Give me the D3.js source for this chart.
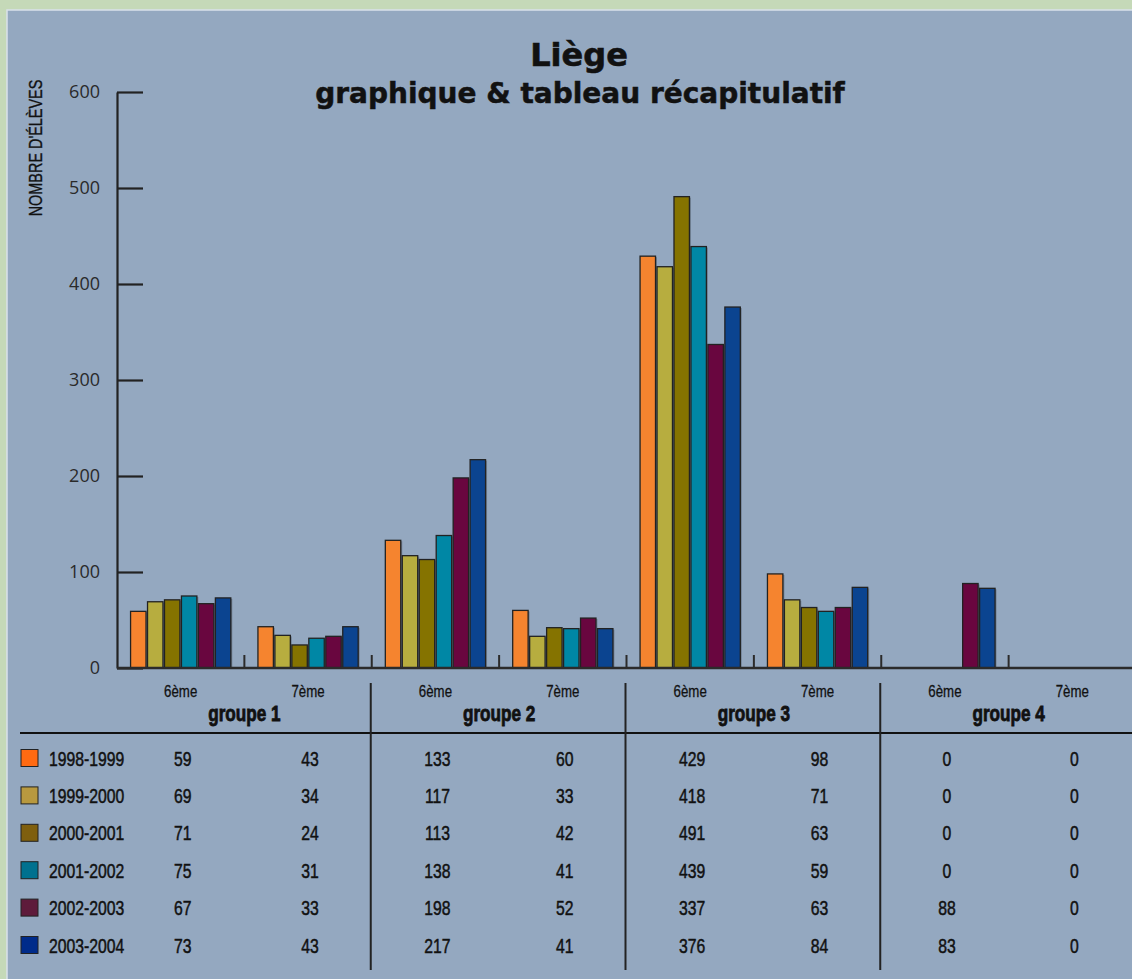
<!DOCTYPE html>
<html>
<head>
<meta charset="utf-8">
<script src="https://cdn.jsdelivr.net/npm/d3@7"></script>
<style>
  html, body { margin: 0; padding: 0; background: #c5d9b8; }
  svg { display: block; }
  .cond { font-family: "Liberation Sans", Arial, sans-serif; }
</style>
</head>
<body>
<svg id="chart" width="1132" height="979"></svg>
<script>
// Pupils per year, by class (6ème / 7ème) and group
const groups = ["groupe 1", "groupe 2", "groupe 3", "groupe 4"];
const classes = ["6ème", "7ème"];
const years = ["1998-1999", "1999-2000", "2000-2001", "2001-2002", "2002-2003", "2003-2004"];

// values in order: g1 6ème, g1 7ème, g2 6ème, g2 7ème, g3 6ème, g3 7ème, g4 6ème, g4 7ème
const v1998 = [59, 43, 133, 60, 429, 98, 0, 0];
const v1999 = [69, 34, 117, 33, 418, 71, 0, 0];
const v2000 = [71, 24, 113, 42, 491, 63, 0, 0];
const v2001 = [75, 31, 138, 41, 439, 59, 0, 0];
const v2002 = [67, 33, 198, 52, 337, 63, 88, 0];
const v2003 = [73, 43, 217, 41, 376, 84, 83, 0];
const seriesValues = [v1998, v1999, v2000, v2001, v2002, v2003];

const yTicks = [0, 100, 200, 300, 400, 500, 600];

const barColors = ["#f5842f", "#b7ad3f", "#857300", "#0087a5", "#69063f", "#0b4490"];
const swatchColors = ["#ff6a12", "#b8993f", "#7f5f0e", "#00718f", "#5e1b3b", "#002b8a"];

const svg = d3.select("#chart");
const W = 1132, H = 979;
const SX = 0.8; // horizontal squeeze for the condensed labels

// condensed text: placed at (x, y), squeezed horizontally around its anchor
function condText(parent, x, y, str, opts) {
  const o = Object.assign({ size: 20, anchor: "middle", weight: "normal", sx: SX, rotate: 0, stroke: 0 }, opts || {});
  const t = parent.append("text").attr("class", "cond")
    .attr("transform", `translate(${x},${y}) rotate(${o.rotate}) scale(${o.sx},1)`)
    .attr("text-anchor", o.anchor).attr("font-size", o.size).attr("font-weight", o.weight)
    .attr("fill", "#111").text(str);
  if (o.stroke) t.attr("stroke", "#111").attr("stroke-width", o.stroke);
  return t;
}

// panel
svg.append("rect").attr("x", 7).attr("y", 10).attr("width", W + 20).attr("height", H + 20)
  .attr("fill", "#94a8c0").attr("stroke", "#d9e1ea").attr("stroke-width", 1.5);

// titles
svg.append("text").attr("x", 579).attr("y", 66).attr("text-anchor", "middle")
  .attr("font-family", "'DejaVu Sans', sans-serif").attr("font-weight", "bold")
  .attr("font-size", 32).attr("fill", "#111").attr("stroke", "#111").attr("stroke-width", 0.6)
  .text("Liège");
svg.append("text").attr("x", 580).attr("y", 103).attr("text-anchor", "middle")
  .attr("font-family", "'DejaVu Sans', sans-serif").attr("font-weight", "bold")
  .attr("font-size", 28).attr("fill", "#111").attr("stroke", "#111").attr("stroke-width", 0.5)
  .text("graphique & tableau récapitulatif");

// scales
const cats = [];
groups.forEach(g => classes.forEach(c => cats.push(g + "|" + c)));
const x0 = d3.scaleBand().domain(cats).range([117, 1136]).padding(0);
const x1 = d3.scaleBand().domain(years).range([0, x0.bandwidth()])
  .paddingInner(0.09).paddingOuter(0.8);
const y = d3.scaleLinear().domain([0, 600]).range([668, 92]);

// y axis
const yAxis = d3.axisLeft(y).tickValues(yTicks).tickSizeInner(-26).tickSizeOuter(0).tickPadding(17);
const ya = svg.append("g").attr("transform", "translate(117,0)").call(yAxis);
ya.select(".domain").attr("stroke", "#222").attr("stroke-width", 2.2);
ya.selectAll(".tick line").attr("stroke", "#222").attr("stroke-width", 2.2);
ya.selectAll(".tick text").attr("font-family", "'Open Sans', 'Noto Sans', sans-serif")
  .attr("font-size", 18).attr("fill", "#2a2a2a");

condText(svg, 42, 148, "NOMBRE D'ÉLÈVES", { size: 19, rotate: -90, sx: 0.76, stroke: 0.35 });

// bars
const barData = [];
seriesValues.forEach((vals, si) => vals.forEach((v, ci) => {
  if (v > 0) barData.push({ cat: cats[ci], year: years[si], si, v });
}));
const bars = svg.append("g");
bars.selectAll("rect.shadow").data(barData).enter().append("rect").attr("class", "shadow")
  .attr("x", d => x0(d.cat) + x1(d.year) + 1.5).attr("y", d => y(d.v) + 1)
  .attr("width", x1.bandwidth()).attr("height", d => y(0) - y(d.v))
  .attr("fill", "#4a5563").attr("opacity", 0.45);
bars.selectAll("rect.bar").data(barData).enter().append("rect").attr("class", "bar")
  .attr("x", d => x0(d.cat) + x1(d.year)).attr("y", d => y(d.v))
  .attr("width", x1.bandwidth()).attr("height", d => y(0) - y(d.v))
  .attr("fill", d => barColors[d.si]).attr("stroke", "#222").attr("stroke-width", 1.3);

// x baseline and category boundary ticks
svg.append("line").attr("x1", 117).attr("x2", 1132).attr("y1", 668).attr("y2", 668)
  .attr("stroke", "#2b2b2b").attr("stroke-width", 2.5);
svg.append("g").selectAll("line").data(cats.slice(1)).enter().append("line")
  .attr("x1", d => x0(d)).attr("x2", d => x0(d)).attr("y1", 655).attr("y2", 668)
  .attr("stroke", "#2b2b2b").attr("stroke-width", 2);

// category labels
const catG = svg.append("g");
cats.forEach(c => condText(catG, x0(c) + x0.bandwidth() / 2, 697, c.split("|")[1],
  { size: 17, sx: 0.78, stroke: 0.3 }));

// group labels
const grpG = svg.append("g");
groups.forEach(g => condText(grpG, x0(g + "|" + classes[0]) + x0.bandwidth(), 721, g,
  { size: 22, weight: "bold", sx: 0.78, stroke: 0.8 }));

// table rules
svg.append("line").attr("x1", 20).attr("x2", 1132).attr("y1", 733).attr("y2", 733)
  .attr("stroke", "#111").attr("stroke-width", 2);
svg.append("g").selectAll("line").data(groups.slice(1)).enter().append("line")
  .attr("x1", g => x0(g + "|" + classes[0]) - 1).attr("x2", g => x0(g + "|" + classes[0]) - 1)
  .attr("y1", 683).attr("y2", 970).attr("stroke", "#222").attr("stroke-width", 2);

// table rows: swatch, year, values
const rowY = d3.scalePoint().domain(years).range([758, 945]);
const tbl = svg.append("g");
years.forEach((yr, i) => {
  const ry = rowY(yr);
  tbl.append("rect").attr("x", 21).attr("y", ry - 8.5).attr("width", 17).attr("height", 17)
    .attr("fill", swatchColors[i]).attr("stroke", "#222").attr("stroke-width", 1);
  condText(tbl, 49, ry + 7.5, yr, { size: 21, anchor: "start", sx: 0.75, stroke: 0.5 });
  seriesValues[i].forEach((v, ci) => {
    condText(tbl, x0(cats[ci]) + x0.bandwidth() / 2 + 2, ry + 7.5, v, { size: 21, sx: 0.75, stroke: 0.5 });
  });
});
</script>
</body>
</html>
